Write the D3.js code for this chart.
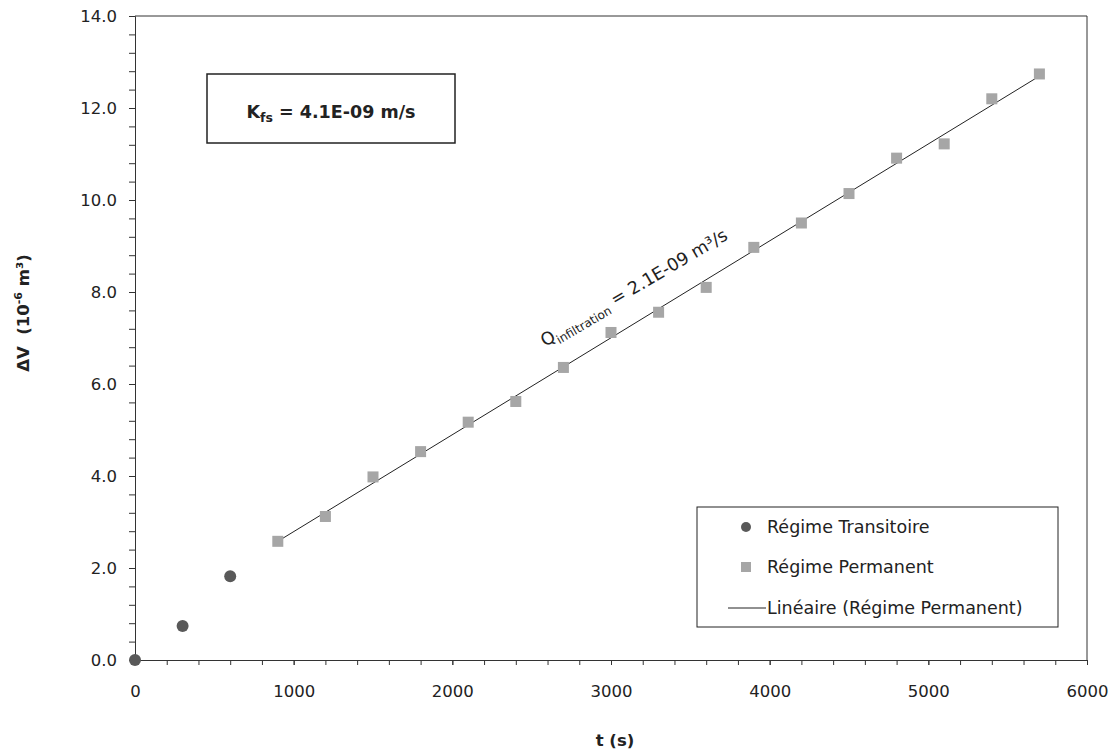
<!DOCTYPE html>
<html><head><meta charset="utf-8">
<script src="https://cdn.jsdelivr.net/npm/d3@7"></script>
<style>body{margin:0;background:#fff}svg{display:block}text{font-family:"DejaVu Sans",Verdana,sans-serif;fill:#222;white-space:pre}</style>
</head><body>
<svg id="c" width="1114" height="753"></svg>
<script>
const transT = [0, 300, 600];
const transV = [0, 0.74, 1.82];
const permT = [900,1200,1500,1800,2100,2400,2700,3000,3300,3600,3900,4200,4500,4800,5100,5400,5700];
const permV = [2.58,3.12,3.98,4.53,5.17,5.62,6.36,7.12,7.56,8.10,8.97,9.50,10.14,10.91,11.22,12.20,12.74];
const xTicks = [0,1000,2000,3000,4000,5000,6000];
const yTicks = [0,2,4,6,8,10,12,14];

const svg = d3.select("#c");
const L=135, R=1087, T=16, B=660;
const x = d3.scaleLinear().domain([0,6000]).range([L,R]);
const y = d3.scaleLinear().domain([0,14]).range([B,T]);

// frame top/right
svg.append("path").attr("d",`M${L},${T}H${R}V${B}`).attr("fill","none").attr("stroke","#333").attr("stroke-width",1);

// x axis
const xa = svg.append("g").attr("transform",`translate(0,${B})`);
xa.call(d3.axisBottom(x).tickValues(d3.range(0,6001,200)).tickFormat("").tickSize(5).tickSizeOuter(0));
xa.append("g").call(d3.axisBottom(x).tickValues(xTicks).tickFormat(d3.format("d")).tickSize(5).tickSizeOuter(0).tickPadding(20));
xa.selectAll("path,line").attr("stroke","#333");
xa.selectAll("text").attr("font-size",16.5).attr("fill","#222").attr("font-family","DejaVu Sans");

// y axis
const ya = svg.append("g").attr("transform",`translate(${L},0)`);
ya.call(d3.axisLeft(y).tickValues(d3.range(0,14.01,0.4)).tickFormat("").tickSize(6).tickSizeOuter(0));
ya.append("g").call(d3.axisLeft(y).tickValues(yTicks).tickFormat(d3.format(".1f")).tickSize(6).tickSizeOuter(0).tickPadding(12));
ya.selectAll("path,line").attr("stroke","#333");
ya.selectAll("text").attr("font-size",16.5).attr("fill","#222").attr("font-family","DejaVu Sans");

// regression
const n=permT.length, mx=d3.mean(permT), my=d3.mean(permV);
const slope=d3.sum(permT.map((t,i)=>(t-mx)*(permV[i]-my)))/d3.sum(permT.map(t=>(t-mx)**2));
const icpt=my-slope*mx;
const t0=permT[0], t1=permT[n-1];
svg.append("line").attr("x1",x(t0)).attr("y1",y(icpt+slope*t0)).attr("x2",x(t1)).attr("y2",y(icpt+slope*t1))
  .attr("stroke","#222").attr("stroke-width",1);

// squares
svg.selectAll("rect.p").data(permT).enter().append("rect").attr("class","p")
  .attr("x",(d)=>x(d)-5.5).attr("y",(d,i)=>y(permV[i])-5.5).attr("width",11).attr("height",11).attr("fill","#a6a6a6");
// circles
svg.selectAll("circle.t").data(transT).enter().append("circle").attr("class","t")
  .attr("cx",d=>x(d)).attr("cy",(d,i)=>y(transV[i])).attr("r",6).attr("fill","#595959");

// annotation along line
const an = svg.append("text").attr("transform",`translate(545,347) rotate(-30.5)`).attr("font-size",17.5);
an.append("tspan").text("Q");
an.append("tspan").attr("font-size",12).attr("dy",5).text("infiltration");
an.append("tspan").attr("dy",-5).text(" = 2.1E-09 m³/s");

// K box
svg.append("rect").attr("x",207).attr("y",74).attr("width",248).attr("height",69).attr("fill","#fff").attr("stroke","#222").attr("stroke-width",1.5);
const kt = svg.append("text").attr("x",331).attr("y",118).attr("text-anchor","middle").attr("font-weight","bold").attr("font-size",17.5);
kt.append("tspan").text("K");
kt.append("tspan").attr("font-size",12.5).attr("dy",4).text("fs");
kt.append("tspan").attr("dy",-4).text(" = 4.1E-09 m/s");

// legend
svg.append("rect").attr("x",697).attr("y",507).attr("width",361).attr("height",120).attr("fill","#fff").attr("stroke","#222").attr("stroke-width",1);
svg.append("circle").attr("cx",746).attr("cy",527).attr("r",5).attr("fill","#595959");
svg.append("rect").attr("x",741).attr("y",562).attr("width",10).attr("height",10).attr("fill","#a6a6a6");
svg.append("line").attr("x1",728).attr("x2",766).attr("y1",608).attr("y2",608).attr("stroke","#222");
const leg=[["Régime Transitoire",527],["Régime Permanent",567],["Linéaire (Régime Permanent)",608]];
leg.forEach(([t,yy])=>svg.append("text").attr("x",767).attr("y",yy+6).attr("font-size",17.5).text(t));

// axis titles
svg.append("text").attr("x",615).attr("y",746).attr("text-anchor","middle").attr("font-weight","bold").attr("font-size",16.5).text("t (s)");
const yt = svg.append("text").attr("transform","translate(29,313) rotate(-90)").attr("text-anchor","middle").attr("font-weight","bold").attr("font-size",16.5);
yt.append("tspan").text("ΔV  (10");
yt.append("tspan").attr("font-size",11).attr("dy",-7).text("-6");
yt.append("tspan").attr("dy",7).text(" m³)");
</script>
</body></html>
